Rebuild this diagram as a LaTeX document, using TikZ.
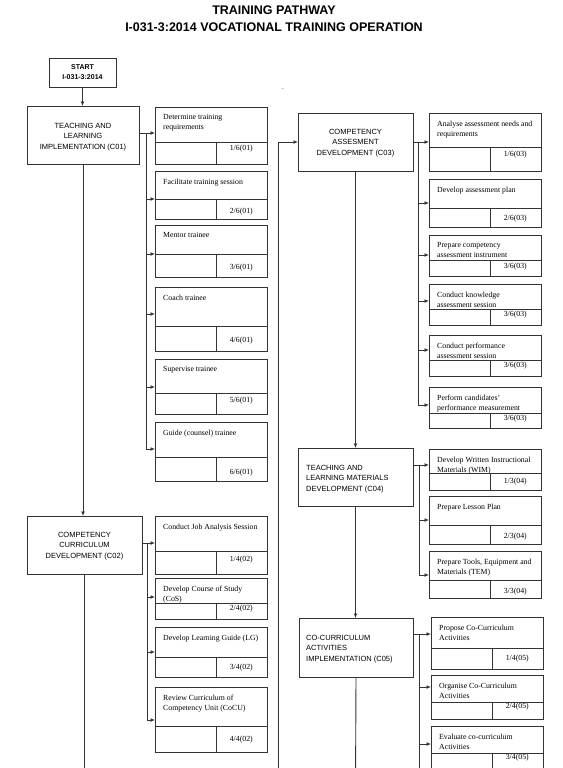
\documentclass[tikz,border=0pt]{standalone}
\usepackage{fontspec}
\setmainfont{Liberation Serif}
\newfontfamily\arialf{Liberation Sans}
\usetikzlibrary{arrows.meta}

\tikzset{
  ln/.style={draw=black!80, line width=0.9pt},
  arr/.style={ln, -{Latex[length=4.5pt,width=4pt]}},
  ubox/.style={ln, anchor=north west, inner sep=0pt, outer sep=0pt},
  cbox/.style={ln, anchor=north west, inner sep=0pt, outer sep=0pt},
  utext/.style={anchor=north west, inner sep=0pt, align=left, font=\fontsize{7.8}{10}\selectfont},
  unum/.style={anchor=base east, inner sep=0pt, font=\fontsize{7.8}{10}\selectfont},
  ctext/.style={inner sep=0pt, font=\arialf\fontsize{7.5}{10.5}\selectfont},
  ttl/.style={anchor=base, inner sep=0pt, font=\arialf\bfseries\fontsize{12.5}{15}\selectfont},
}

% name, top, div, bottom, text, number, number y
\newcommand\unitbox[7]{%
  \node[ubox, minimum width=\uw, minimum height={#4-#2}] (#1) at (\ux,#2) {};
  \node[utext] (#1t) at (\ux+8,#2+7.5) {#5};
  \node[unum] (#1n) at (\ux+\uw-14,#7+2.7) {#6};
  \draw[ln] (#1.west |- 0,#3) -- (#1.east |- 0,#3);
  \draw[ln] (\uv,#3) -- (\uv,#4);
}

\begin{document}
\begin{tikzpicture}[x=1pt,y=-1pt]
\useasboundingbox (0,0) rectangle (562,768);
\clip (0,0) rectangle (562,768);

% titles
\node[ttl] (title1) at (274,14.5) {TRAINING PATHWAY};
\node[ttl] (title2) at (274,31.5) {I-031-3:2014 VOCATIONAL TRAINING OPERATION};
\node[anchor=base, inner sep=0pt, font=\fontsize{7}{8}\selectfont] (dot) at (283,89) {.};

% start
\node[cbox, minimum width=67, minimum height=29] (start) at (49,58) {};
\node[inner sep=0pt, align=center, font=\arialf\bfseries\fontsize{7}{10}\selectfont] (startt) at (start.center) {START\\I-031-3:2014};

% competency boxes
\node[cbox, minimum width=112, minimum height=58] (C01) at (27,106) {};
\node[ctext, align=center] (C01t) at (83,137) {TEACHING AND\\LEARNING\\IMPLEMENTATION (C01)};

\node[cbox, minimum width=115, minimum height=58] (C02) at (27,516) {};
\node[ctext, align=center] (C02t) at (84.5,546) {COMPETENCY\\CURRICULUM\\DEVELOPMENT (C02)};

\node[cbox, minimum width=115, minimum height=58] (C03) at (298,113) {};
\node[ctext, align=center] (C03t) at (355.5,143) {COMPETENCY\\ASSESMENT\\DEVELOPMENT (C03)};

\node[cbox, minimum width=115, minimum height=58] (C04) at (298,448) {};
\node[ctext, align=left, anchor=west] (C04t) at (306,479) {TEACHING AND\\LEARNING MATERIALS\\DEVELOPMENT (C04)};

\node[cbox, minimum width=114, minimum height=59] (C05) at (299,618) {};
\node[ctext, align=left, anchor=west] (C05t) at (306,649) {CO-CURRICULUM\\ACTIVITIES\\IMPLEMENTATION (C05)};

% column of C01 units
\def\ux{155}\def\uw{112}\def\uv{216}
\unitbox{U1}{107}{142}{164}{Determine training\\requirements}{1/6(01)}{148}
\unitbox{U2}{171}{199}{219}{Facilitate training session}{2/6(01)}{211}
\unitbox{U3}{225}{254}{277}{Mentor trainee}{3/6(01)}{267}
\unitbox{U4}{287}{326}{351}{Coach trainee}{4/6(01)}{340}
\unitbox{U5}{359}{393}{414}{Supervise trainee}{5/6(01)}{400}
\unitbox{U6}{422}{457}{481}{Guide (counsel) trainee}{6/6(01)}{472}

% column of C02 units
\unitbox{V1}{516}{551}{574}{Conduct Job Analysis Session}{1/4(02)}{559}
\unitbox{V2}{578}{603}{619}{Develop Course of Study\\(CoS)}{2/4(02)}{608}
\unitbox{V3}{627}{657}{677}{Develop Learning Guide (LG)}{3/4(02)}{667}
\unitbox{V4}{687}{726}{752}{Review Curriculum of\\Competency Unit (CoCU)}{4/4(02)}{739}

% column of C03 units
\def\ux{429}\def\uw{112}\def\uv{490}
\unitbox{W1}{113}{147}{171}{Analyse assessment needs and\\requirements}{1/6(03)}{154}
\unitbox{W2}{179}{208}{227}{Develop assessment plan}{2/6(03)}{218}
\unitbox{W3}{235}{260}{276}{Prepare competency\\assessment instrument}{3/6(03)}{266}
\unitbox{W4}{284}{309}{325}{Conduct knowledge\\assessment session}{3/6(03)}{314}
\unitbox{W5}{335}{360}{376}{Conduct performance\\assessment session}{3/6(03)}{365}
\unitbox{W6}{387}{413}{428}{Perform candidates'\\performance measurement}{3/6(03)}{418}

% column of C04 units
\unitbox{X1}{449}{473}{490}{Develop Written Instructional\\Materials (WIM)}{1/3(04)}{481}
\unitbox{X2}{496}{525}{544}{Prepare Lesson Plan}{2/3(04)}{536}
\unitbox{X3}{551}{580}{598}{Prepare Tools, Equipment and\\Materials (TEM)}{3/3(04)}{591}

% column of C05 units
\def\ux{431}\def\uw{112}\def\uv{492}
\unitbox{Y1}{617}{648}{669}{Propose Co-Curriculum\\Activities}{1/4(05)}{658}
\unitbox{Y2}{675}{702}{719}{Organise Co-Curriculum\\Activities}{2/4(05)}{706}
\unitbox{Y3}{726}{753}{790}{Evaluate co-curriculum\\Activities}{3/4(05)}{757}

% main flow
\draw[arr] (start.south) -- (start.south |- C01.north);
\draw[arr] (C01.south) -- (C01.south |- C02.north);
\coordinate (endL) at (84.5,790);
\draw[ln] (C02.south) -- (endL);
\draw[arr] (C03.south) -- (C03.south |- C04.north);
\draw[arr] (C04.south) -- (C04.south |- C05.north);
\coordinate (endM) at (355.5,790);
\draw[ln] (C05.south) -- (endM);
\coordinate (feed) at (278,790);
\draw[arr] (feed) |- (C03.west);

% C01 bus
\coordinate (b1) at (146,133);
\coordinate (b1e) at (146,449);
\draw[ln] (C01.east |- b1) -- (b1) -- (b1e);
\draw[arr] (b1) -- (U1.west |- 0,133);
\draw[arr] (146,199) -- (U2.west |- 0,199);
\draw[arr] (146,254) -- (U3.west |- 0,254);
\draw[arr] (146,314) -- (U4.west |- 0,314);
\draw[arr] (146,387) -- (U5.west |- 0,387);
\draw[arr] (b1e) -- (U6.west |- b1e);

% C02 bus
\coordinate (b2) at (147,543);
\coordinate (b2e) at (147,720);
\draw[ln] (C02.east |- b2) -- (b2) -- (b2e);
\draw[arr] (b2) -- (V1.west |- b2);
\draw[arr] (147,597) -- (V2.west |- 0,597);
\draw[arr] (147,652) -- (V3.west |- 0,652);
\draw[arr] (b2e) -- (V4.west |- b2e);

% C03 bus
\coordinate (b3) at (418,142);
\coordinate (b3e) at (418,405);
\draw[ln] (C03.east |- b3) -- (b3) -- (b3e);
\draw[arr] (b3) -- (W1.west |- b3);
\draw[arr] (418,203) -- (W2.west |- 0,203);
\draw[arr] (418,255) -- (W3.west |- 0,255);
\draw[arr] (418,301) -- (W4.west |- 0,301);
\draw[arr] (418,350) -- (W5.west |- 0,350);
\draw[arr] (b3e) -- (W6.west |- b3e);

% C04 bus
\coordinate (b4) at (419,465);
\coordinate (b4e) at (419,575);
\draw[ln] (C04.east |- b4) -- (b4) -- (b4e);
\draw[arr] (b4) -- (X1.west |- b4);
\draw[arr] (419,520) -- (X2.west |- 0,520);
\draw[arr] (b4e) -- (X3.west |- b4e);

% C05 bus
\coordinate (b5) at (419,634);
\coordinate (b5e) at (419,790);
\draw[ln] (C05.east |- b5) -- (b5) -- (b5e);
\draw[arr] (b5) -- (Y1.west |- b5);
\draw[arr] (419,687) -- (Y2.west |- 0,687);
\draw[arr] (419,744) -- (Y3.west |- 0,744);
\end{tikzpicture}
\end{document}
